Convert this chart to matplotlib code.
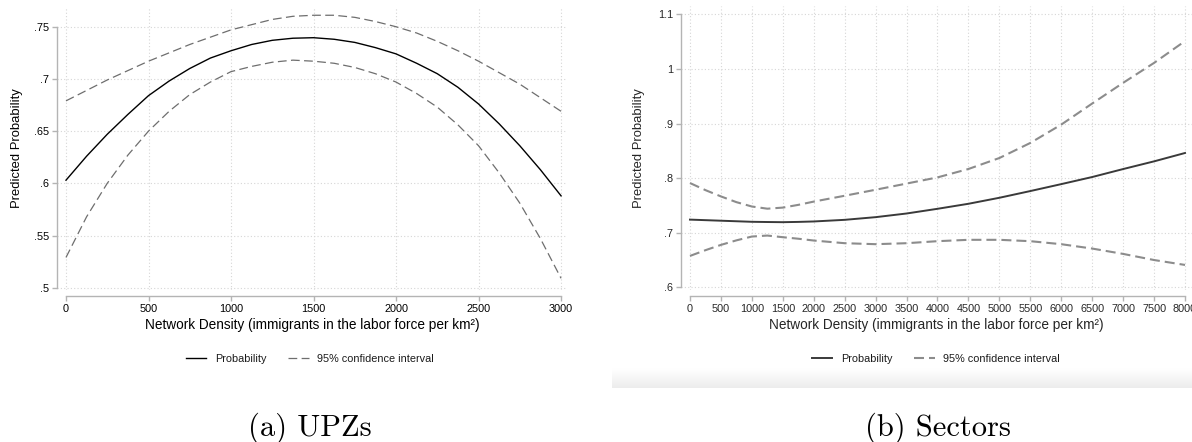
import numpy as np
import matplotlib.pyplot as plt

plt.rcParams["font.family"] = ["Liberation Sans", "DejaVu Sans"]

# ---- (a) UPZs ----
upz_x = [0, 125, 250, 375, 500, 625, 750, 875, 1000, 1125, 1250, 1375, 1500,
         1625, 1750, 1875, 2000, 2125, 2250, 2375, 2500, 2625, 2750, 2875, 3000]
upz_prob = [.603, .626, .647, .666, .684, .698, .710, .720, .727, .733, .737, .739, .7395,
            .738, .735, .730, .724, .715, .705, .692, .676, .657, .636, .613, .588]
upz_hi = [.679, .689, .699, .708, .717, .725, .733, .740, .747, .752, .757, .760, .761,
          .761, .759, .755, .750, .744, .736, .727, .717, .706, .695, .682, .669]
upz_lo = [.529, .568, .600, .627, .650, .669, .685, .697, .707, .712, .716, .718, .717,
          .715, .711, .705, .697, .686, .673, .656, .636, .610, .581, .547, .509]
upz_xticks = [0, 500, 1000, 1500, 2000, 2500, 3000]
upz_yticks = [.5, .55, .6, .65, .7, .75]
upz_ylabels = [".5", ".55", ".6", ".65", ".7", ".75"]

# ---- (b) Sectors ----
sec_x = [0, 250, 500, 750, 1000, 1250, 1500, 1750, 2000, 2500, 3000, 3500, 4000,
         4500, 5000, 5500, 6000, 6500, 7000, 7500, 8000]
sec_prob = [.724, .723, .722, .721, .720, .7196, .7193, .7198, .7206, .7236, .7285,
            .7352, .7438, .753, .764, .7763, .789, .802, .8166, .8307, .846]
sec_hi = [.791, .778, .7665, .756, .748, .744, .746, .751, .757, .7677, .7787,
          .790, .8013, .8167, .8368, .8644, .898, .9366, .9745, 1.011, 1.051]
sec_lo = [.6575, .668, .6777, .686, .693, .6948, .6918, .689, .6857, .6808, .679,
          .6808, .6845, .687, .687, .6845, .679, .671, .6612, .650, .641]
sec_xticks = list(range(0, 8001, 500))
sec_yticks = [.6, .7, .8, .9, 1.0, 1.1]
sec_ylabels = [".6", ".7", ".8", ".9", "1", "1.1"]

XLAB = "Network Density (immigrants in the labor force per km\u00b2)"
W, H = 1192, 442


def style_axes(ax, xticks, yticks, ylabels, xlim, ylim, tick_color, lab_color):
    ax.set_xlim(*xlim)
    ax.set_ylim(*ylim)
    for s in ("top", "right"):
        ax.spines[s].set_visible(False)
    for s in ("left", "bottom"):
        ax.spines[s].set_color("#b4b4b4")
        ax.spines[s].set_linewidth(1.0)
    ax.spines["bottom"].set_position(("outward", 4.3))
    ax.spines["bottom"].set_bounds(xticks[0], xticks[-1])
    ax.spines["left"].set_bounds(yticks[0], yticks[-1])
    ax.set_xticks(xticks)
    ax.set_yticks(yticks)
    ax.set_yticklabels(ylabels)
    ax.tick_params(axis="both", length=3.6, width=1.0, color="#b4b4b4",
                   labelsize=7.8, labelcolor=tick_color, pad=2.0)
    ax.grid(True, color="#d6d6d6", lw=0.8, ls=(0, (1, 2)))
    ax.set_axisbelow(True)
    ax.set_xlabel(XLAB, fontsize=9.8, color=lab_color, labelpad=3)
    ax.set_ylabel("Predicted Probability", fontsize=9.4, color=lab_color)


fig = plt.figure(figsize=(W / 100, H / 100), dpi=100)
fig.patch.set_facecolor("white")

# left panel
a = fig.add_axes([57 / W, 1 - 290 / H, 510 / W, (290 - 6.7) / H])
style_axes(a, upz_xticks, upz_yticks, upz_ylabels, (-54.5, 3036), (.4978, .7692),
           "black", "black")
a.plot(upz_x, upz_hi, color="#6e6e6e", lw=0.9, ls=(0, (7, 3.5)))
a.plot(upz_x, upz_lo, color="#6e6e6e", lw=0.9, ls=(0, (7, 3.5)))
a.plot(upz_x, upz_prob, color="black", lw=1.0)
a.yaxis.set_label_coords(-0.066, 0.5)

# right panel (screenshot, clipped at the right edge)
b = fig.add_axes([681 / W, 1 - 290 / H, 511 / W, (290 - 6) / H])
style_axes(b, sec_xticks, sec_yticks, sec_ylabels, (-145, 8113), (.5951, 1.1152),
           "#262626", "#262626")
b.plot(sec_x, sec_hi, color="#8c8c8c", lw=1.5, ls=(0, (4.8, 2.4)))
b.plot(sec_x, sec_lo, color="#8c8c8c", lw=1.5, ls=(0, (4.8, 2.4)))
b.plot(sec_x, sec_prob, color="#3a3a3a", lw=1.4)
b.yaxis.set_label_coords(-0.07, 0.5)

# legends
for cx, sol, das, lws in ((310, "black", "#6e6e6e", (1.0, 0.9)),
                          (936, "#3a3a3a", "#8c8c8c", (1.4, 1.5))):
    h1, = plt.plot([], [], color=sol, lw=lws[0])
    h2, = plt.plot([], [], color=das, lw=lws[1],
                   ls=(0, (7, 3.5)) if lws[1] < 1.2 else (0, (4.8, 2.4)))
    fig.legend([h1, h2], ["Probability", "95% confidence interval"],
               loc="center", bbox_to_anchor=(cx / W, 1 - 359 / H), ncol=2,
               frameon=False, fontsize=7.8, handlelength=1.9, handletextpad=0.8,
               columnspacing=2.0, labelcolor="#1a1a1a")

# light grey band under the screenshot
g = fig.add_axes([612 / W, 1 - 388 / H, (W - 612) / W, 20 / H])
grad = np.linspace(1.0, 0.925, 50).reshape(-1, 1)
g.imshow(grad, cmap="gray", vmin=0, vmax=1, aspect="auto",
         extent=[0, 1, 0, 1], origin="upper")
g.axis("off")

# captions
fig.text(310 / W, 1 - 436 / H, "(a) UPZs", family="cmr10", fontsize=22,
         ha="center", va="baseline")
fig.text(938 / W, 1 - 436 / H, "(b) Sectors", family="cmr10", fontsize=22,
         ha="center", va="baseline")

fig.savefig("out.png", dpi=100, facecolor="white")
